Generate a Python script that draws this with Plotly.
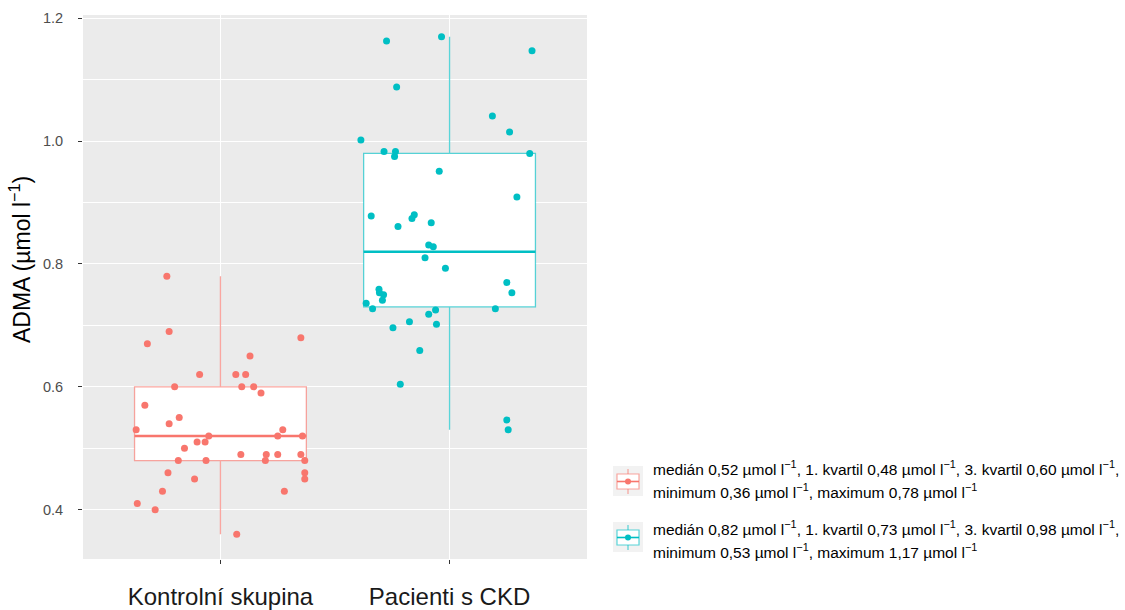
import plotly.graph_objects as go

# ---- data -------------------------------------------------------------
groups = ["Kontrolní skupina", "Pacienti s CKD"]
group_colors = ["#F8766D", "#00BFC4"]
box_line_colors = ["rgba(248,118,109,0.65)", "rgba(0,191,196,0.65)"]

# summary statistics per group (µmol/l)
stat_median = [0.52, 0.82]
stat_q1 = [0.48, 0.73]
stat_q3 = [0.60, 0.98]
stat_min = [0.36, 0.53]
stat_max = [0.78, 1.17]

# individual ADMA values and their horizontal jitter (category units)
control_values = [0.78, 0.69, 0.67, 0.68, 0.65, 0.62, 0.62, 0.62, 0.60, 0.60,
                  0.60, 0.59, 0.57, 0.55, 0.54, 0.53, 0.53, 0.52, 0.52, 0.52,
                  0.51, 0.51, 0.50, 0.49, 0.49, 0.49, 0.49, 0.48, 0.48, 0.48,
                  0.48, 0.46, 0.46, 0.45, 0.45, 0.43, 0.43, 0.41, 0.40, 0.36]
control_jitter = [-0.234, -0.224, -0.319, 0.351, 0.129, -0.091, 0.067, 0.110, -0.200, 0.093,
                  0.145, 0.177, -0.330, -0.180, -0.224, -0.368, 0.272, -0.051, 0.250, 0.358,
                  -0.102, -0.067, -0.157, 0.089, 0.200, 0.250, 0.351, 0.196, -0.184, -0.063,
                  0.368, -0.229, 0.368, -0.113, 0.368, -0.253, 0.279, -0.363, -0.285, 0.071]

ckd_values = [1.163, 1.17, 1.147, 1.088, 1.041, 1.015, 1.002, 0.983, 0.983, 0.975,
              0.980, 0.951, 0.909, 0.878, 0.880, 0.874, 0.861, 0.867, 0.831, 0.828,
              0.810, 0.793, 0.770, 0.753, 0.759, 0.753, 0.750, 0.741, 0.736, 0.727,
              0.727, 0.725, 0.718, 0.706, 0.702, 0.696, 0.659, 0.604, 0.546, 0.53]
ckd_jitter = [-0.275, -0.035, 0.360, -0.231, 0.187, 0.262, -0.387, -0.286, -0.236, -0.240,
              0.350, -0.045, 0.294, -0.342, -0.154, -0.164, -0.225, -0.080, -0.091, -0.071,
              -0.107, -0.018, 0.250, 0.272, -0.308, -0.306, -0.288, -0.293, -0.364, -0.336,
              0.200, -0.061, -0.091, -0.175, -0.057, -0.247, -0.130, -0.215, 0.250, 0.256]

point_values = [control_values, ckd_values]
point_jitter = [control_jitter, ckd_jitter]

# ---- layout constants ------------------------------------------------
W, H = 1125, 610
PL, PR, PT, PB = 83, 587, 15, 559          # plotting panel in pixels
BOX_W = 0.75
FONT = "Arial, Liberation Sans, sans-serif"
Y_RANGE = [0.3197, 1.2053]


def px_x(px):
    return (px - PL) / (PR - PL)


def px_y(py):
    return (PB - py) / (PB - PT)


def unit(v):
    return f"{v:.2f}".replace(".", ",") + " µmol l<sup>−1</sup>"


fig = go.Figure()

for i, name in enumerate(groups):
    pos = i + 1
    fig.add_trace(go.Box(
        x=[pos], q1=[stat_q1[i]], median=[stat_median[i]], q3=[stat_q3[i]],
        lowerfence=[stat_min[i]], upperfence=[stat_max[i]],
        width=BOX_W, whiskerwidth=0, boxpoints=False,
        fillcolor="white", line=dict(color=box_line_colors[i], width=1.3),
        showlegend=False, hoverinfo="skip",
    ))
    # thicker median bar
    fig.add_trace(go.Scatter(
        x=[pos - BOX_W / 2, pos + BOX_W / 2], y=[stat_median[i]] * 2,
        mode="lines", line=dict(color=group_colors[i], width=2.6),
        showlegend=False, hoverinfo="skip",
    ))
    fig.add_trace(go.Scatter(
        x=[pos + j for j in point_jitter[i]], y=point_values[i],
        mode="markers", marker=dict(color=group_colors[i], size=7, line=dict(width=0)),
        showlegend=False, name=name,
    ))

# ---- legend drawn beside the panel ----------------------------------
shapes = []
annotations = []
key_tops = [466, 522]
text_rows = [(468, 491), (528, 551)]
for i in range(2):
    top = key_tops[i]
    cx = 628
    cy = top + 15.5
    shapes.append(dict(type="rect", xref="paper", yref="paper",
                       x0=px_x(613), x1=px_x(643), y0=px_y(top + 30), y1=px_y(top),
                       fillcolor="#F2F2F2", line=dict(width=0), layer="above"))
    shapes.append(dict(type="line", xref="paper", yref="paper",
                       x0=px_x(cx), x1=px_x(cx), y0=px_y(top + 28), y1=px_y(top + 3),
                       line=dict(color=box_line_colors[i], width=1.2), layer="above"))
    shapes.append(dict(type="rect", xref="paper", yref="paper",
                       x0=px_x(617), x1=px_x(639), y0=px_y(top + 23), y1=px_y(top + 8),
                       fillcolor="white", line=dict(color=box_line_colors[i], width=1.2), layer="above"))
    shapes.append(dict(type="line", xref="paper", yref="paper",
                       x0=px_x(617), x1=px_x(639), y0=px_y(cy), y1=px_y(cy),
                       line=dict(color=group_colors[i], width=1.6), layer="above"))
    shapes.append(dict(type="circle", xref="paper", yref="paper",
                       x0=px_x(cx - 3), x1=px_x(cx + 3), y0=px_y(cy + 3), y1=px_y(cy - 3),
                       fillcolor=group_colors[i], line=dict(width=0), layer="above"))
    line1 = (f"medián {unit(stat_median[i])}, 1. kvartil {unit(stat_q1[i])}, "
             f"3. kvartil {unit(stat_q3[i])},")
    line2 = f"minimum {unit(stat_min[i])}, maximum {unit(stat_max[i])}"
    for row_y, txt in zip(text_rows[i], (line1, line2)):
        annotations.append(dict(xref="paper", yref="paper", x=px_x(651), y=px_y(row_y),
                                text=txt, showarrow=False, xanchor="left", yanchor="middle",
                                font=dict(family=FONT, size=15.5, color="#000000")))

# y-axis title
annotations.append(dict(xref="paper", yref="paper", x=px_x(20), y=px_y(260),
                        text="ADMA (µmol l<sup>−1</sup>)", textangle=-90, showarrow=False,
                        xanchor="center", yanchor="middle",
                        font=dict(family=FONT, size=23, color="#000000")))

fig.update_layout(
    width=W, height=H,
    margin=dict(l=PL, r=W - PR, t=PT, b=H - PB, pad=0),
    paper_bgcolor="white", plot_bgcolor="#EBEBEB",
    font=dict(family=FONT),
    shapes=shapes, annotations=annotations,
    showlegend=False,
)
fig.update_xaxes(
    range=[0.4, 2.6], tickvals=[1, 2], ticktext=groups,
    showgrid=True, gridcolor="white", gridwidth=1.1, zeroline=False,
    ticks="outside", ticklen=4, tickcolor="#333333", tickwidth=1.1,
    ticklabelstandoff=12, automargin=False,
    tickfont=dict(family=FONT, size=24, color="#1A1A1A"),
    showline=False,
)
fig.update_yaxes(
    range=Y_RANGE, tickvals=[0.4, 0.6, 0.8, 1.0, 1.2], tickformat=".1f",
    showgrid=True, gridcolor="white", gridwidth=1.1, zeroline=False,
    minor=dict(tickvals=[0.3, 0.5, 0.7, 0.9, 1.1], showgrid=True,
               gridcolor="white", gridwidth=0.55, ticks=""),
    ticks="outside", ticklen=4, tickcolor="#333333", tickwidth=1.1,
    ticklabelstandoff=12, automargin=False,
    tickfont=dict(family=FONT, size=14.5, color="#4D4D4D"),
    showline=False,
)

fig.write_html("out.html")
